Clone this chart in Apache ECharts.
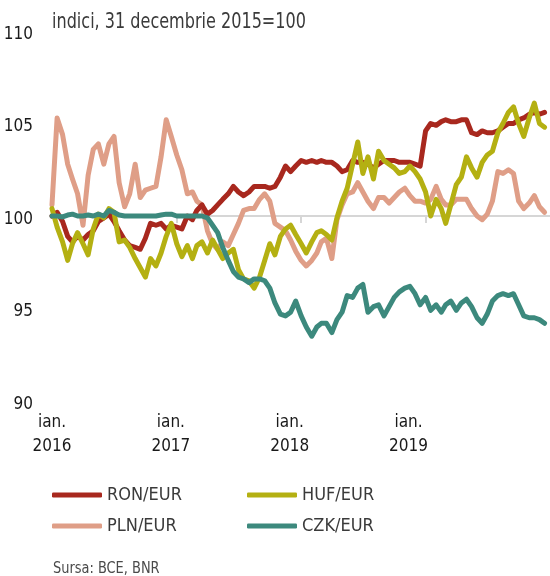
<!DOCTYPE html>
<html><head><meta charset="utf-8">
<script src="https://cdn.jsdelivr.net/npm/echarts@6/dist/echarts.min.js"></script>
<style>html,body{margin:0;padding:0;background:#fff}#c{width:550px;height:576px}</style>
</head><body><div id="c"></div>
<script>
// ---- data (index, 31 Dec 2015 = 100), semi-monthly readings ----
const dates = [
 '2016-01-01','2016-01-16','2016-02-01','2016-02-16','2016-03-01','2016-03-16','2016-04-01','2016-04-16','2016-05-01','2016-05-16','2016-06-01','2016-06-16',
 '2016-07-01','2016-07-16','2016-08-01','2016-08-16','2016-09-01','2016-09-16','2016-10-01','2016-10-16','2016-11-01','2016-11-16','2016-12-01','2016-12-16',
 '2017-01-01','2017-01-16','2017-02-01','2017-02-16','2017-03-01','2017-03-16','2017-04-01','2017-04-16','2017-05-01','2017-05-16','2017-06-01','2017-06-16',
 '2017-07-01','2017-07-16','2017-08-01','2017-08-16','2017-09-01','2017-09-16','2017-10-01','2017-10-16','2017-11-01','2017-11-16','2017-12-01','2017-12-16',
 '2018-01-01','2018-01-16','2018-02-01','2018-02-16','2018-03-01','2018-03-16','2018-04-01','2018-04-16','2018-05-01','2018-05-16','2018-06-01','2018-06-16',
 '2018-07-01','2018-07-16','2018-08-01','2018-08-16','2018-09-01','2018-09-16','2018-10-01','2018-10-16','2018-11-01','2018-11-16','2018-12-01','2018-12-16',
 '2019-01-01','2019-01-16','2019-02-01','2019-02-16','2019-03-01','2019-03-16','2019-04-01','2019-04-16','2019-05-01','2019-05-16','2019-06-01','2019-06-16',
 '2019-07-01','2019-07-16','2019-08-01','2019-08-16','2019-09-01','2019-09-16','2019-10-01','2019-10-16','2019-11-01','2019-11-16','2019-12-01','2019-12-16'
];
const ron = [
 100.0,100.2,99.7,98.9,98.6,98.9,98.7,99.0,99.2,99.7,99.9,100.1,
 99.7,99.2,98.7,98.4,98.3,98.2,98.8,99.6,99.5,99.6,99.3,99.5,
 99.4,99.3,100.0,99.8,100.3,100.6,100.1,100.3,100.6,100.9,101.2,101.6,
 101.3,101.1,101.3,101.6,101.6,101.6,101.5,101.6,102.1,102.7,102.4,102.7,
 103.0,102.9,103.0,102.9,103.0,102.9,102.9,102.7,102.4,102.5,103.0,102.9,
 102.9,102.8,102.6,102.8,103.0,103.0,103.0,102.9,102.9,102.9,102.8,102.7,
 104.6,105.0,104.9,105.1,105.2,105.1,105.1,105.2,105.2,104.5,104.4,104.6,
 104.5,104.5,104.6,104.8,105.0,105.0,105.2,105.3,105.5,105.6,105.5,105.6
];
const huf = [
 100.4,99.4,98.6,97.6,98.5,99.1,98.5,97.9,99.3,100.1,99.9,100.4,
 100.2,98.6,98.7,98.3,97.7,97.2,96.7,97.7,97.3,98.0,98.9,99.6,
 98.5,97.8,98.4,97.7,98.4,98.6,98.0,98.7,98.2,97.7,98.0,98.2,
 97.1,96.6,96.5,96.1,96.7,97.6,98.5,97.9,98.9,99.3,99.5,99.0,
 98.5,98.0,98.6,99.1,99.2,99.0,98.7,99.9,100.8,101.5,102.8,104.0,
 102.3,103.2,102.0,103.5,103.0,102.8,102.6,102.3,102.4,102.7,102.4,102.0,
 101.3,100.0,100.9,100.4,99.6,100.6,101.7,102.1,103.2,102.6,102.1,102.9,
 103.3,103.5,104.5,105.0,105.6,105.9,105.0,104.3,105.3,106.1,105.0,104.8
];
const pln = [
 100.6,105.3,104.4,102.8,102.0,101.2,99.5,102.2,103.6,103.9,102.8,103.9,
 104.3,101.8,100.5,101.2,102.8,101.0,101.4,101.5,101.6,103.2,105.2,104.3,
 103.3,102.5,101.2,101.3,100.8,100.6,99.2,98.5,98.2,98.6,98.4,99.0,
 99.6,100.3,100.4,100.4,100.9,101.2,100.8,99.6,99.4,99.2,98.7,98.1,
 97.6,97.3,97.6,98.0,98.6,98.8,97.7,99.8,100.6,101.2,101.3,101.8,
 101.3,100.8,100.4,101.0,101.0,100.7,101.0,101.3,101.5,101.1,100.8,100.8,
 100.7,100.9,101.6,100.9,100.6,100.6,100.9,100.9,100.9,100.4,100.0,99.8,
 100.1,100.8,102.4,102.3,102.5,102.3,100.8,100.4,100.7,101.1,100.5,100.2
];
const czk = [
 100.0,100.0,99.95,100.05,100.1,100.0,100.0,100.05,100.0,100.1,100.0,100.3,
 100.2,100.05,100.0,100.0,100.0,100.0,100.0,100.0,100.0,100.05,100.1,100.1,
 100.0,100.0,100.0,100.0,100.0,100.0,99.9,99.5,99.1,98.3,97.6,97.0,
 96.7,96.6,96.4,96.6,96.6,96.5,96.1,95.3,94.7,94.6,94.8,95.4,
 94.6,94.0,93.5,94.0,94.2,94.2,93.7,94.4,94.8,95.7,95.6,96.1,
 96.3,94.8,95.1,95.2,94.6,95.1,95.6,95.9,96.1,96.2,95.8,95.2,
 95.6,94.9,95.2,94.8,95.2,95.4,94.9,95.3,95.5,95.1,94.5,94.2,
 94.7,95.4,95.7,95.8,95.7,95.8,95.2,94.6,94.5,94.5,94.4,94.2
];
const seriesNames = ['RON/EUR','HUF/EUR','PLN/EUR','CZK/EUR'];
const yearTicks = ['2017-01-01','2018-01-01','2019-01-01'];
const xLabelYears = ['2016','2017','2018','2019'];
const titleText = 'indici, 31 decembrie 2015=100';
const sourceText = 'Sursa: BCE, BNR';

// ---- styles ----
const colors = {'RON/EUR':'#A8281E','HUF/EUR':'#B4B012','PLN/EUR':'#DF9E87','CZK/EUR':'#3C897D'};
const zOrder = {'RON/EUR':3,'HUF/EUR':4,'PLN/EUR':2,'CZK/EUR':5};
const narrow = "'Liberation Sans Narrow','DejaVu Sans Condensed',sans-serif";
const values = {'RON/EUR':ron,'HUF/EUR':huf,'PLN/EUR':pln,'CZK/EUR':czk};

const chart = echarts.init(document.getElementById('c'), null, {renderer:'canvas'});
const pairs = v => dates.map((d,i)=>[d, v[i]]);

const legendCommon = {
  left: 47, itemWidth: 50, itemHeight: 5, itemGap: 15, icon: 'roundRect',
  textStyle: {fontFamily: narrow, fontSize: 18, color: '#3a3a3a', width: 125, lineHeight: 20},
  selectedMode: false
};

chart.setOption({
  animation: false,
  backgroundColor: '#fff',
  grid: {left: 52, right: -3, top: 31, height: 370, containLabel: false},
  xAxis: [
    {type: 'time', min: '2016-01-01', max: '2020-01-01', position: 'bottom',
     axisLine: {show: true, onZero: false, lineStyle: {color: '#d6d6d6', width: 2}},
     axisTick: {show: true, length: 7, customValues: yearTicks, lineStyle: {color: '#d6d6d6', width: 2}},
     axisLabel: {show: false}, splitLine: {show: false}},
    {type: 'value', min: 0, max: 4.19, position: 'bottom',
     axisLine: {show: false}, axisTick: {show: false}, splitLine: {show: false},
     axisLabel: {show: true, customValues: [0,1,2,3], margin: 10,
       formatter: (v, i) => 'ian.\n' + xLabelYears[Math.round(v)],
       fontFamily: narrow, fontSize: 17, lineHeight: 24, color: '#1a1a1a'}}
  ],
  yAxis: {type: 'value', min: 90, max: 110, interval: 5,
    axisLine: {show: false}, axisTick: {show: false}, splitLine: {show: false},
    axisLabel: {margin: 19, formatter: v => '{a|' + v + '}',
      rich: {a: {fontFamily: narrow, fontSize: 17, color: '#1a1a1a', padding: [7,0,0,0]}}}},
  legend: [
    Object.assign({}, legendCommon, {top: 480, data: ['RON/EUR','HUF/EUR']}),
    Object.assign({}, legendCommon, {top: 511, data: ['PLN/EUR','CZK/EUR']})
  ],
  graphic: [
    {type: 'text', left: 52, top: 12, scaleX: 0.85, originX: 0,
     style: {text: titleText, font: "21px 'Liberation Sans Narrow','DejaVu Sans Condensed',sans-serif", fill: '#3a3a3a'}},
    {type: 'text', left: 53, top: 561, scaleX: 0.9,
     style: {text: sourceText, font: "16px 'Liberation Sans Narrow','DejaVu Sans Condensed',sans-serif", fill: '#4a4a4a'}}
  ],
  series: seriesNames.map(n => ({
    name: n, type: 'line', data: pairs(values[n]), showSymbol: false, symbol: 'none',
    color: colors[n], z: zOrder[n],
    lineStyle: {width: 5, color: colors[n], join: 'round', cap: 'round'},
    emphasis: {disabled: true}
  }))
});

// place the time axis line on the 100 level
const y100 = chart.convertToPixel({yAxisIndex: 0}, 100);
const y90 = chart.convertToPixel({yAxisIndex: 0}, 90);
chart.setOption({xAxis: [{offset: y100 - y90}, {}]});
</script>
</body></html>
